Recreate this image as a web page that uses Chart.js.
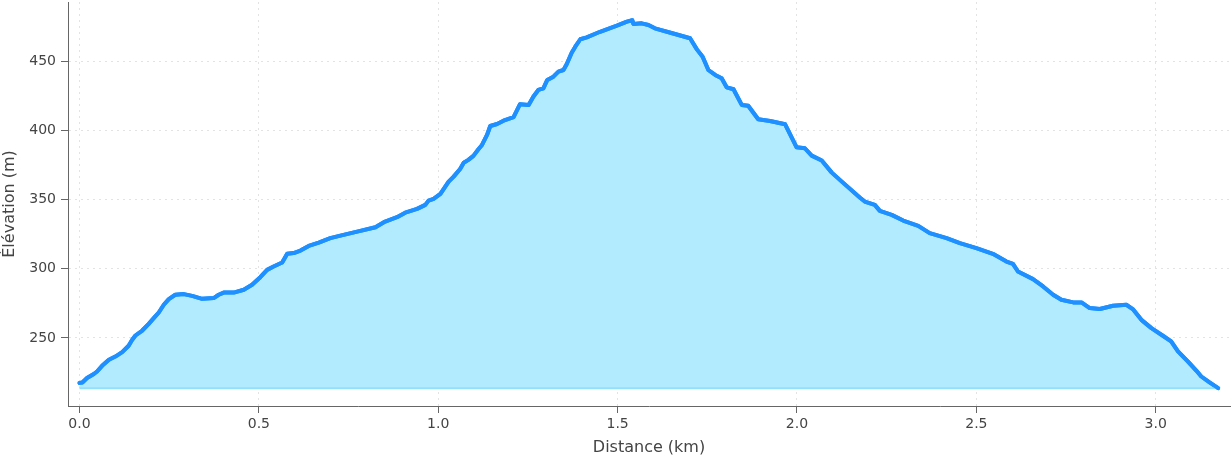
<!DOCTYPE html>
<html>
<head>
<meta charset="utf-8">
<script src="https://cdn.jsdelivr.net/npm/chart.js@4"></script>
<style>
  body { margin: 0; background: #fff; }
</style>
</head>
<body>
<canvas id="profil" width="1232" height="460"></canvas>
<script>
const distanceKm = [
  0.000, 0.008, 0.021, 0.040, 0.049, 0.063, 0.082, 0.100, 0.119, 0.137,
  0.147, 0.156, 0.175, 0.193, 0.207, 0.221, 0.235, 0.249, 0.267, 0.291,
  0.314, 0.342, 0.374, 0.388, 0.402, 0.430, 0.458, 0.481, 0.504, 0.523,
  0.541, 0.565, 0.579, 0.597, 0.616, 0.639, 0.667, 0.699, 0.736, 0.774,
  0.825, 0.852, 0.885, 0.908, 0.941, 0.964, 0.973, 0.987, 1.006, 1.029,
  1.043, 1.061, 1.071, 1.084, 1.098, 1.112, 1.122, 1.136, 1.145, 1.164,
  1.182, 1.210, 1.228, 1.252, 1.265, 1.279, 1.293, 1.304, 1.321, 1.335,
  1.349, 1.358, 1.372, 1.382, 1.396, 1.414, 1.451, 1.498, 1.526, 1.541,
  1.544, 1.567, 1.586, 1.604, 1.650, 1.702, 1.721, 1.737, 1.753, 1.772,
  1.790, 1.804, 1.823, 1.846, 1.864, 1.892, 1.925, 1.967, 1.999, 2.022,
  2.041, 2.069, 2.097, 2.125, 2.175, 2.189, 2.217, 2.231, 2.264, 2.296,
  2.338, 2.370, 2.417, 2.454, 2.500, 2.546, 2.584, 2.602, 2.616, 2.658,
  2.686, 2.714, 2.737, 2.770, 2.793, 2.816, 2.844, 2.881, 2.918, 2.936,
  2.960, 2.988, 3.020, 3.043, 3.062, 3.090, 3.113, 3.127, 3.150, 3.174
];
const elevationM = [
  217.6, 217.9, 221.1, 224.0, 225.8, 229.9, 234.3, 236.6, 239.8, 244.4,
  248.7, 251.8, 255.4, 260.2, 264.3, 268.4, 274.0, 278.1, 281.2, 281.7,
  280.4, 278.3, 278.8, 281.2, 282.8, 282.8, 284.8, 288.4, 293.9, 299.2,
  301.6, 304.5, 310.8, 311.3, 313.1, 316.5, 318.9, 322.1, 324.5, 326.8,
  330.0, 334.1, 337.2, 340.5, 343.2, 346.1, 349.2, 350.4, 354.0, 362.9,
  366.5, 372.0, 376.6, 378.6, 381.5, 386.3, 389.4, 396.6, 403.1, 404.5,
  406.9, 409.4, 418.8, 418.3, 424.2, 429.1, 430.3, 436.3, 438.7, 442.3,
  443.5, 447.6, 456.0, 460.3, 465.7, 467.1, 471.1, 475.5, 478.4, 479.4,
  476.7, 477.2, 476.0, 473.6, 470.2, 466.4, 458.4, 453.1, 443.5, 439.9,
  437.5, 431.0, 429.6, 418.3, 417.7, 407.9, 406.7, 404.3, 387.7, 387.0,
  381.7, 378.1, 369.4, 362.9, 351.5, 348.5, 346.1, 341.8, 338.9, 334.8,
  331.0, 325.7, 322.1, 318.5, 314.9, 310.8, 305.2, 303.5, 298.0, 292.5,
  287.2, 281.2, 277.6, 275.7, 275.7, 271.6, 270.9, 273.3, 274.0, 270.9,
  263.1, 257.1, 251.6, 247.5, 240.3, 233.0, 226.5, 222.2, 217.9, 213.8
];
const xTicks = [0, 0.5, 1.0, 1.5, 2.0, 2.5, 3.0];
const yTicks = [250, 300, 350, 400, 450];

const baseElev = Math.min(...elevationM);
const points = distanceKm.map((d, i) => ({ x: d, y: elevationM[i] }));
const baseline = [
  { x: distanceKm[0], y: baseElev },
  { x: distanceKm[distanceKm.length - 1], y: baseElev }
];

const textColor = "#444";
const axisColor = "#666";

// redraw the profile line on top of the grid (grid sits above the fill)
const lineOnTop = {
  id: "lineOnTop",
  afterDraw(chart) {
    const meta = chart.getDatasetMeta(1);
    const ctx = chart.ctx;
    const a = chart.chartArea;
    ctx.save();
    ctx.beginPath();
    ctx.rect(a.left, a.top - 4, a.right - a.left, a.bottom - a.top + 8);
    ctx.clip();
    meta.dataset.draw(ctx, a);
    ctx.restore();
  }
};

new Chart(document.getElementById("profil").getContext("2d"), {
  type: "line",
  data: {
    datasets: [
      {
        data: baseline,
        borderColor: "#95dffb",
        borderWidth: 2,
        pointRadius: 0,
        fill: false,
        order: 0
      },
      {
        data: points,
        borderColor: "#1e90ff",
        borderWidth: 4,
        borderJoinStyle: "round",
        borderCapStyle: "round",
        backgroundColor: "#b1ebfd",
        fill: { value: baseElev },
        pointRadius: 0,
        tension: 0,
        order: 1
      }
    ]
  },
  options: {
    responsive: false,
    animation: false,
    devicePixelRatio: 1,
    layout: { padding: { top: 2, right: 2, left: 0, bottom: 0 } },
    plugins: { legend: { display: false }, tooltip: { enabled: false } },
    scales: {
      x: {
        type: "linear",
        min: -0.032,
        max: 3.207,
        z: 1,
        afterBuildTicks: (s) => { s.ticks = xTicks.map((v) => ({ value: v })); },
        afterFit: (s) => { s.height = 54; s.paddingLeft = 0; s.paddingRight = 0; },
        ticks: {
          color: textColor,
          font: { family: "DejaVu Sans", size: 14 },
          padding: 3,
          maxRotation: 0,
          callback: (v) => v.toFixed(1)
        },
        grid: {
          color: "#e3e3e3",
          lineWidth: 1,
          tickLength: 7,
          tickColor: axisColor,
          tickWidth: 1
        },
        border: { color: axisColor, width: 1, dash: [2, 4] },
        title: {
          display: true,
          text: "Distance (km)",
          color: textColor,
          font: { family: "DejaVu Sans", size: 16 },
          padding: { top: 0, bottom: 2.4 }
        }
      },
      y: {
        min: 200.9,
        max: 492.6,
        z: 1,
        afterBuildTicks: (s) => { s.ticks = yTicks.map((v) => ({ value: v })); },
        afterFit: (s) => { s.width = 68; s.paddingTop = 0; s.paddingBottom = 0; },
        ticks: {
          color: textColor,
          font: { family: "DejaVu Sans", size: 14 },
          padding: 5
        },
        grid: {
          color: "#e3e3e3",
          lineWidth: 1,
          tickLength: 7,
          tickColor: axisColor,
          tickWidth: 1
        },
        border: { color: axisColor, width: 1, dash: [2, 4] },
        title: {
          display: true,
          text: "Élévation (m)",
          color: textColor,
          font: { family: "DejaVu Sans", size: 16 },
          padding: { top: 0.5, bottom: 4 }
        }
      }
    }
  },
  plugins: [lineOnTop]
});
</script>
</body>
</html>
